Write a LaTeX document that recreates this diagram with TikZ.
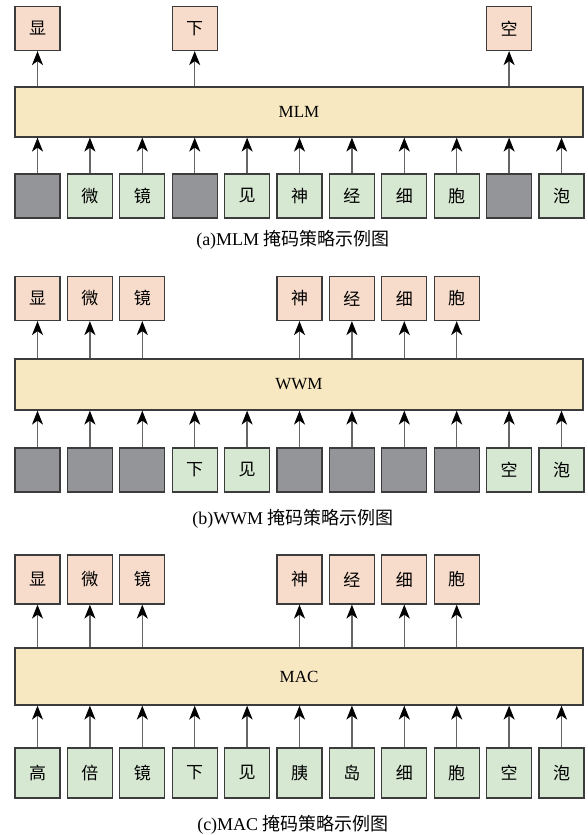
\documentclass[tikz,border=0pt]{standalone}
\usepackage{fontspec}
\setmainfont{Liberation Serif}
\newfontfamily\cjk{Noto Sans CJK SC}
\usepackage{xcolor}
\usepackage{tikz}
\usetikzlibrary{arrows.meta}

\definecolor{outpink}{HTML}{F8DCCB}
\definecolor{wordgreen}{HTML}{D6E8D2}
\definecolor{maskgray}{HTML}{939598}
\definecolor{coreyellow}{HTML}{F8E8C2}
\definecolor{edgegray}{HTML}{3C3C3C}

\tikzset{
  tok/.style={draw=edgegray, line width=1.2pt, minimum width=45pt, minimum height=44pt,
    inner sep=0pt, font=\cjk\fontsize{17}{17}\selectfont},
  outtok/.style={tok, fill=outpink},
  wordtok/.style={tok, fill=wordgreen},
  masktok/.style={tok, fill=maskgray},
  core/.style={draw=edgegray, line width=1.2pt, fill=coreyellow, minimum width=568pt,
    minimum height=50pt, inner sep=0pt, font=\fontsize{17}{17}\selectfont},
  up/.style={draw=black!60, line width=1.4pt, -{Stealth[length=14pt,width=11pt,inset=4pt,color=black]}},
  caption/.style={font=\fontsize{18}{18}\selectfont}
}

\begin{document}
\begin{tikzpicture}[x=1pt,y=-1pt]
        \useasboundingbox (0,0) rectangle (587,835);
        % (a) MLM
        \node[core] (mlm) at (299,112) {MLM};
        \foreach \i/\t in {0/显,3/下,9/空}
        \node[outtok] (aout\i) at ({37.5+52.4*\i},28.5) {\t};
        \foreach \i/\t in {1/微,2/镜,4/见,5/神,6/经,7/细,8/胞,10/泡}
        \node[wordtok] (ain\i) at ({37.5+52.4*\i},196) {\t};
        \foreach \i in {0,3,9}
        \node[masktok] (ain\i) at ({37.5+52.4*\i},196) {};
        \foreach \i in {0,...,10}
        \draw[up] (ain\i) -- (ain\i |- mlm.south);
        \foreach \i in {0,3,9}
        \draw[up] (aout\i |- mlm.north) -- (aout\i);
        \node[caption] (acap) at (293,240) {(a)MLM {\cjk 掩码策略示例图}};

        % (b) WWM
        \node[core, minimum height=51pt] (wwm) at (299,384.5) {WWM};
        \foreach \i/\t in {0/显,1/微,2/镜,5/神,6/经,7/细,8/胞}
        \node[outtok] (bout\i) at ({37.5+52.4*\i},298.5) {\t};
        \foreach \i/\t in {3/下,4/见,9/空,10/泡}
        \node[wordtok] (bin\i) at ({37.5+52.4*\i},470) {\t};
        \foreach \i in {0,1,2,5,6,7,8}
        \node[masktok] (bin\i) at ({37.5+52.4*\i},470) {};
        \foreach \i in {0,...,10}
        \draw[up] (bin\i) -- (bin\i |- wwm.south);
        \foreach \i in {0,1,2,5,6,7,8}
        \draw[up] (bout\i |- wwm.north) -- (bout\i);
        \node[caption] (bcap) at (293,519) {(b)WWM {\cjk 掩码策略示例图}};

        % (c) MAC
        \node[core, minimum height=57pt] (mac) at (299,676.5) {MAC};
        \foreach \i/\t in {0/显,1/微,2/镜,5/神,6/经,7/细,8/胞}
        \node[outtok, minimum height=49pt] (cout\i) at ({37.5+52.4*\i},579.5) {\t};
        \foreach \i/\t in {0/高,1/倍,2/镜,3/下,4/见,5/胰,6/岛,7/细,8/胞,9/空,10/泡}
        \node[wordtok, minimum height=50pt] (cin\i) at ({37.5+52.4*\i},773) {\t};
        \foreach \i in {0,...,10}
        \draw[up] (cin\i) -- (cin\i |- mac.south);
        \foreach \i in {0,1,2,5,6,7,8}
        \draw[up] (cout\i |- mac.north) -- (cout\i);
        \node[caption] (ccap) at (293,825) {(c)MAC {\cjk 掩码策略示例图}};
\end{tikzpicture}
\end{document}
